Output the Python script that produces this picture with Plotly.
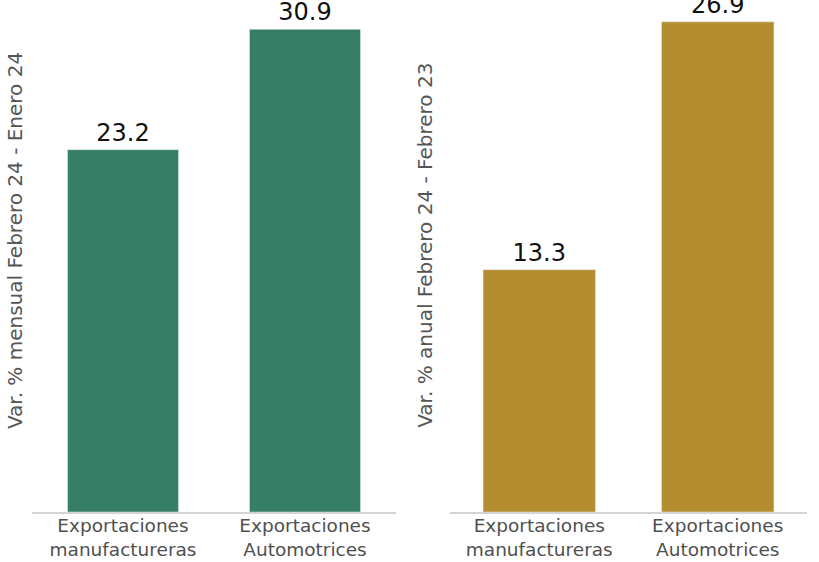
import plotly.graph_objects as go
from plotly.subplots import make_subplots

# categories and values
categories = ["Exportaciones<br>manufactureras", "Exportaciones<br>Automotrices"]
mensual = [23.2, 30.9]
anual = [13.3, 26.9]

green = "#367e66"
gold = "#b38d30"
font_family = "DejaVu Sans, sans-serif"

fig = make_subplots(rows=1, cols=2)

fig.add_trace(
    go.Bar(
        x=categories, y=mensual,
        marker=dict(color=green),
        width=0.61,
        text=[f"{v:.1f}" for v in mensual],
        textposition="outside",
        textfont=dict(size=24, color="#111111", family=font_family),
        cliponaxis=False,
    ),
    row=1, col=1,
)

fig.add_trace(
    go.Bar(
        x=categories, y=anual,
        marker=dict(color=gold),
        width=0.63,
        text=[f"{v:.1f}" for v in anual],
        textposition="outside",
        textfont=dict(size=24, color="#111111", family=font_family),
        cliponaxis=False,
    ),
    row=1, col=2,
)

fig.update_xaxes(
    showline=True, linecolor="#d4d4d4", linewidth=1.5,
    ticks="", tickfont=dict(size=18.5, color="#505050", family=font_family),
    ticklabelstandoff=-4,
    showgrid=False, automargin=False,
)
fig.update_xaxes(domain=[0.0391, 0.4835], row=1, col=1)
fig.update_xaxes(domain=[0.5495, 0.9853], row=1, col=2)

fig.update_yaxes(showticklabels=False, showgrid=False, zeroline=False, showline=False)
fig.update_yaxes(range=[0, 32.78], row=1, col=1)
fig.update_yaxes(range=[0, 28.1], row=1, col=2)

# rotated axis titles
for x, y, txt in [(0.0183, 0.531, "Var. % mensual Febrero 24 - Enero 24"),
                  (0.519, 0.52, "Var. % anual Febrero 24 - Febrero 23")]:
    fig.add_annotation(
        x=x, y=y, xref="paper", yref="paper",
        text=txt, textangle=-90, showarrow=False,
        font=dict(size=20, color="#555555", family=font_family),
        xanchor="center", yanchor="middle",
    )

fig.update_layout(
    width=819, height=562,
    margin=dict(l=0, r=0, t=0, b=50),
    paper_bgcolor="white", plot_bgcolor="white",
    showlegend=False,
)

# drop the default 8px body margin so the figure sits at the page corner
fig.write_html(
    "out.html",
    config={"displayModeBar": False},
    post_script="document.body.style.margin='0';",
)
